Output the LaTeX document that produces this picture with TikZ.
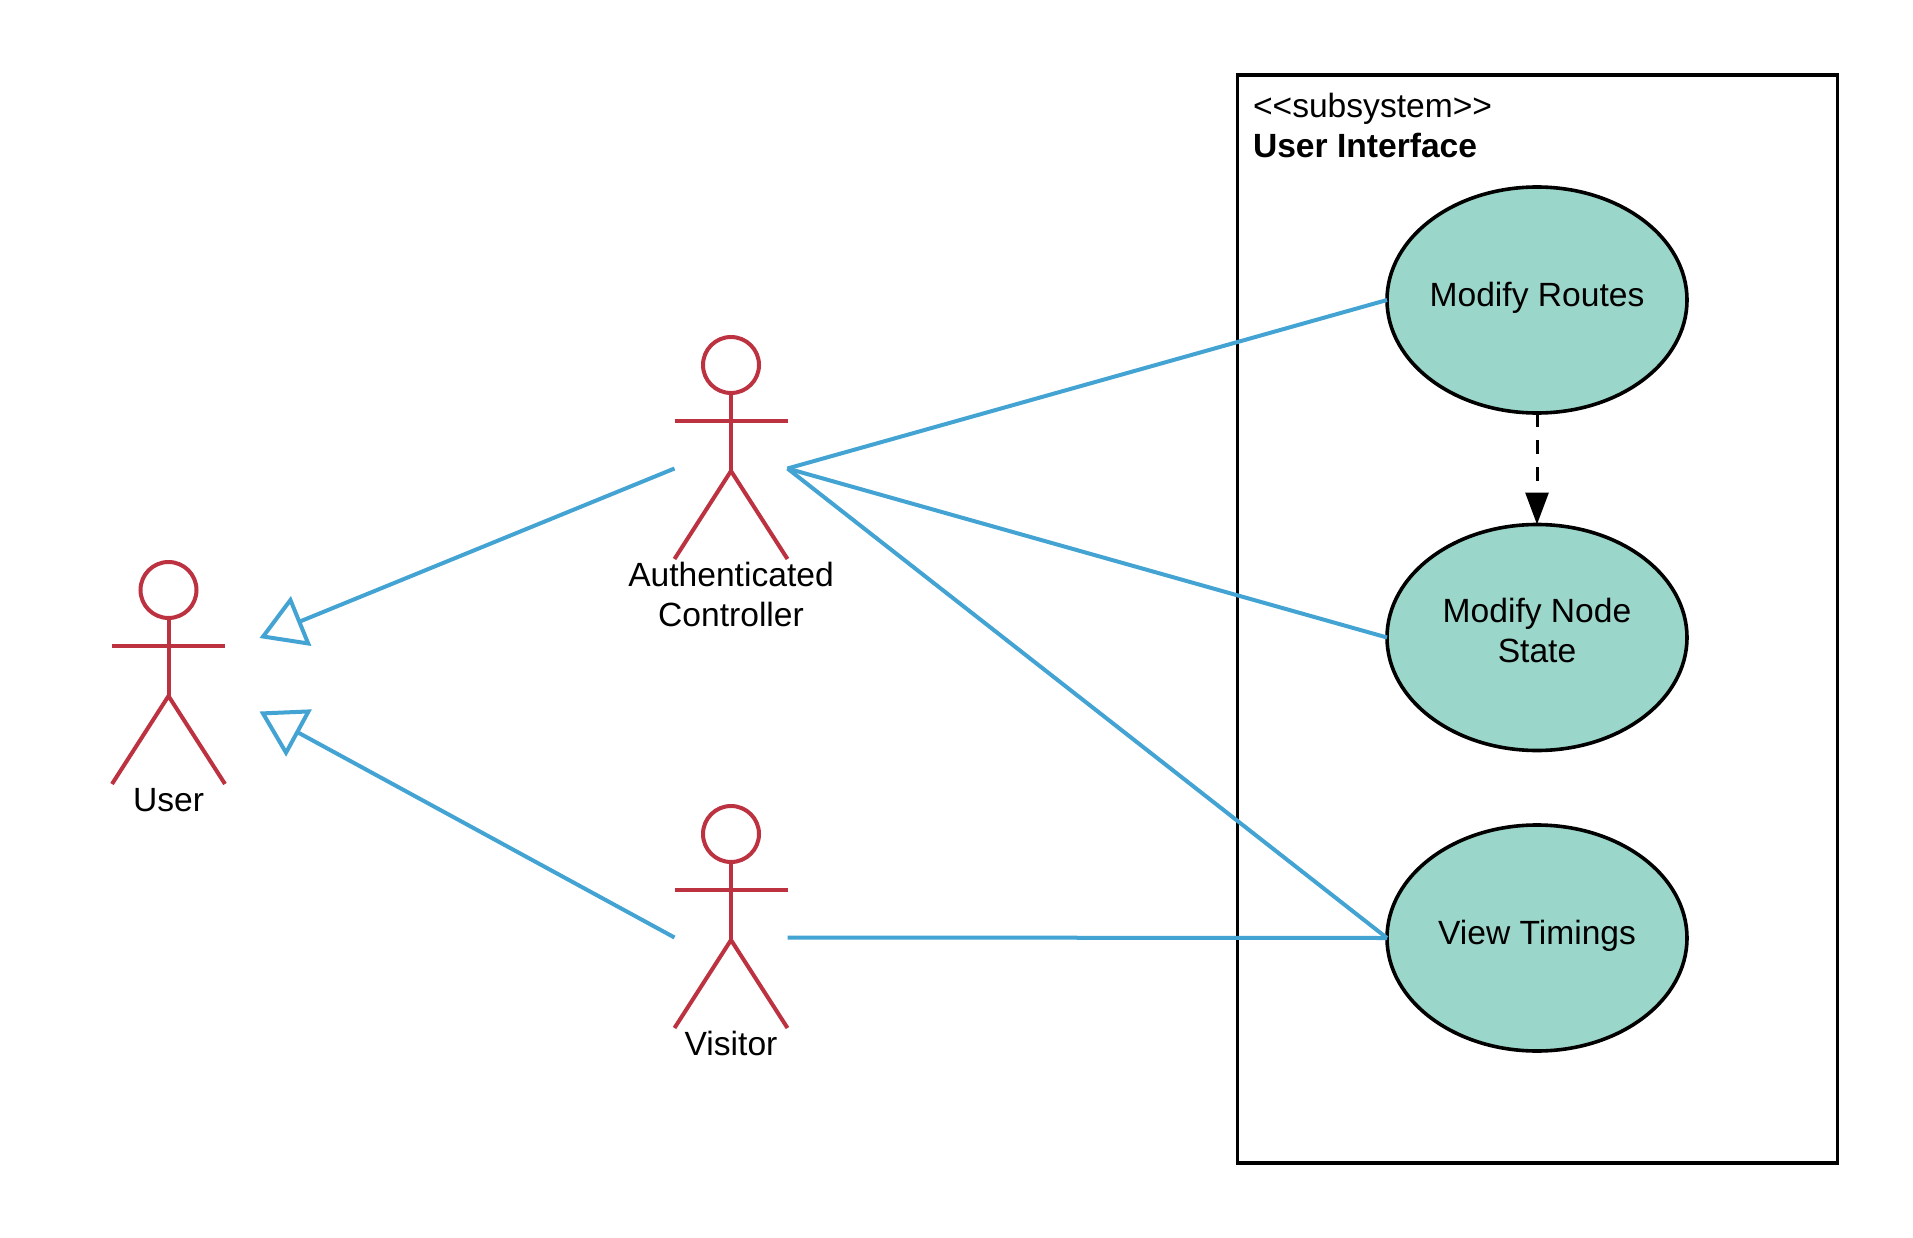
\documentclass[tikz,border=0pt]{standalone}
\usepackage{fontspec}
\setmainfont{Liberation Sans}
\usetikzlibrary{arrows.meta,shapes.geometric}
\definecolor{actorred}{HTML}{BC3240}
\definecolor{linkblue}{HTML}{43A3D3}
\definecolor{caseteal}{HTML}{9AD6C9}
\newcommand{\upbox}[2]{\makebox[0pt]{\raisebox{#1pt}[0pt][0pt]{\begin{tabular}{@{}c@{}}#2\end{tabular}}}}
\tikzset{
  x=1pt,y=-1pt,
  every node/.style={font=\fontsize{33.6}{40}\selectfont,inner sep=0pt,outer sep=0pt,text=black},
  actorline/.style={draw=actorred,line width=4pt},
  actor/.pic={
    \node[circle,actorline,minimum size=56pt] (-head) at (0,0) {};
    \coordinate (-neck) at (0,28);
    \coordinate (-hip) at (0,106);
    \coordinate (-armL) at (-56.5,56);
    \coordinate (-armR) at (56.5,56);
    \coordinate (-footL) at (-56.5,194);
    \coordinate (-footR) at (56.5,194);
    \coordinate (-left) at (-56.5,103.5);
    \coordinate (-right) at (56.5,103.5);
    \draw[actorline] (-neck) -- (-hip);
    \draw[actorline] (-armL) -- (-armR);
    \draw[actorline] (-footL) -- (-hip) -- (-footR);
  },
  actorlabel/.style={align=center},
  assoc/.style={draw=linkblue,line width=4pt},
  general/.style={assoc,-{Triangle[open,length=45pt,width=53pt,line width=4pt]}},
  usecase/.style={ellipse,draw=black,line width=3.6pt,fill=caseteal,minimum width=300pt,minimum height=226pt,align=center},
  depend/.style={draw=black,line width=3pt,dash pattern=on 13.5pt off 13.5pt,-{Triangle[length=32pt,width=23pt]}},
  subsys/.style={draw=black,line width=3.4pt,minimum width=600.5pt,minimum height=1088pt}
}
\begin{document}
\begin{tikzpicture}
\useasboundingbox (0,0) rectangle (1913,1238);
\fill[white] (0,0) rectangle (1913,1238);
\node[subsys] (box) at (1537.5,619) {};
\node[anchor=north west,align=left] (boxtitle) at (1253,93) {<{}<subsystem>{}>\\\bfseries User Interface};
\node[usecase] (routes) at (1537,300) {\upbox{-4.6}{Modify Routes}};
\node[usecase] (state) at (1537,637.5) {\upbox{-3.4}{Modify Node\\State}};
\node[usecase] (timings) at (1537,938) {\upbox{-4.6}{View Timings}};
\pic (user) at (168.5,590) {actor};
\pic (auth) at (731,365) {actor};
\pic (visitor) at (731,834) {actor};
\node[actorlabel,anchor=north] (userlabel) at (168.5,788.5) {User};
\node[actorlabel,anchor=north] (authlabel) at (731,561.7) {Authenticated\\Controller};
\node[actorlabel,anchor=north] (visitorlabel) at (731,1031) {Visitor};
\coordinate (userup) at (259.5,638);
\coordinate (userdown) at (259.5,711.5);
\draw[general] (auth-left) -- (userup);
\draw[general] (visitor-left) -- (userdown);
\draw[assoc] (auth-right) -- (routes.west);
\draw[assoc] (auth-right) -- (state.west);
\draw[assoc] (auth-right) -- (timings.west);
\draw[assoc] (visitor-right) -- (timings.west);
\draw[depend] (routes.south) -- (state.north);
\end{tikzpicture}
\end{document}
